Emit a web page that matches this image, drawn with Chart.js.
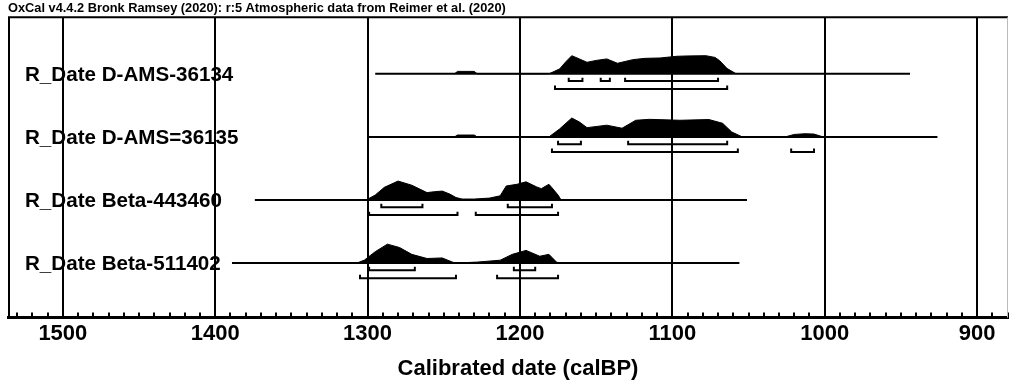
<!DOCTYPE html>
<html lang="en">
<head>
<meta charset="UTF-8">
<title>OxCal multiplot</title>
<script src="https://cdn.jsdelivr.net/npm/chart.js"></script>
<style>
  html, body { margin: 0; padding: 0; background: #fff; }
</style>
</head>
<body>
<canvas id="oxcal" width="1011" height="392"></canvas>
<script>
const header = 'OxCal v4.4.2 Bronk Ramsey (2020): r:5 Atmospheric data from Reimer et al. (2020)';
const axisTitle = 'Calibrated date (calBP)';
const tickValues = [1500, 1400, 1300, 1200, 1100, 1000, 900];
const minorStep = 10;
const xLeft = 1536, xRight = 879.7;

const names = ['R_Date D-AMS-36134', 'R_Date D-AMS=36135', 'R_Date Beta-443460', 'R_Date Beta-511402'];
const spanFrom = [1295, 1300, 1374, 1389];
const spanTo = [944, 926, 1051, 1056];

// calibrated probability, relative height (1 = tallest)
const dates1 = [1243, 1241, 1230, 1228, 1181, 1174, 1170, 1166, 1161, 1156, 1150, 1143, 1136, 1126, 1118, 1108, 1097, 1089, 1078, 1072, 1069, 1064, 1058];
const prob1 = [0, 0.13, 0.13, 0, 0, 0.26, 0.63, 0.96, 0.79, 0.61, 0.71, 0.79, 0.56, 0.75, 0.82, 0.84, 0.93, 0.95, 0.96, 0.87, 0.70, 0.28, 0];
const dates2 = [1243, 1241, 1230, 1228, 1181, 1174, 1166, 1161, 1156, 1143, 1133, 1124, 1115, 1095, 1076, 1067, 1061, 1054, 1026, 1020, 1013, 1007, 1001];
const prob2 = [0, 0.1, 0.1, 0, 0, 0.42, 1.0, 0.79, 0.49, 0.62, 0.46, 0.88, 0.93, 0.88, 0.92, 0.72, 0.26, 0, 0, 0.13, 0.17, 0.15, 0];
const dates3 = [1301, 1295, 1289, 1280, 1271, 1261, 1256, 1251, 1246, 1242, 1238, 1230, 1220, 1213, 1209, 1202, 1196, 1189, 1186, 1181, 1179, 1175, 1173];
const prob3 = [0, 0.26, 0.67, 1.0, 0.78, 0.39, 0.44, 0.47, 0.31, 0.13, 0.05, 0.05, 0.1, 0.22, 0.74, 0.83, 0.96, 0.69, 0.6, 0.83, 0.65, 0.26, 0];
const dates4 = [1307, 1302, 1295, 1287, 1279, 1271, 1261, 1251, 1244, 1242, 1228, 1213, 1205, 1196, 1187, 1181, 1176, 1174];
const prob4 = [0, 0.16, 0.6, 1.0, 0.82, 0.46, 0.24, 0.27, 0.04, 0, 0.05, 0.15, 0.46, 0.67, 0.36, 0.46, 0.05, 0];

// 68.2% and 95.4% ranges
const hpd68 = [
  [[1168, 1159], [1147, 1141], [1131, 1070]],
  [[1175, 1160], [1129, 1064]],
  [[1291, 1264], [1208, 1179]],
  [[1299, 1269], [1204, 1190]]
];
const hpd95 = [
  [[1177, 1064]],
  [[1179, 1057], [1022, 1007]],
  [[1299, 1241], [1229, 1175]],
  [[1305, 1242], [1215, 1175]]
];

const allDates = [dates1, dates2, dates3, dates4];
const allProbs = [prob1, prob2, prob3, prob4];

const peakH = 0.3;
const hook = 0.055;
const rowPos = i => names.length - i;

function brackets(ranges, y) {
  const pts = [];
  ranges.forEach(([a, b]) => {
    pts.push({x: a, y: y + hook}, {x: a, y: y}, {x: b, y: y}, {x: b, y: y + hook}, {x: b, y: null});
  });
  return pts;
}

const line = {borderColor: '#000', backgroundColor: '#000', pointRadius: 0, tension: 0, fill: false, spanGaps: false};
const datasets = [];
names.forEach((n, i) => {
  const y0 = rowPos(i);
  datasets.push(Object.assign({}, line, {
    data: allDates[i].map((d, k) => ({x: d, y: y0 + allProbs[i][k] * peakH})),
    fill: {value: y0}, borderWidth: 1
  }));
  datasets.push(Object.assign({}, line, {data: [{x: spanFrom[i], y: y0}, {x: spanTo[i], y: y0}], borderWidth: 2}));
  datasets.push(Object.assign({}, line, {data: brackets(hpd68[i], y0 - 0.115), borderWidth: 2}));
  datasets.push(Object.assign({}, line, {data: brackets(hpd95[i], y0 - 0.24), borderWidth: 2}));
});

const oxcalExtras = {
  id: 'oxcalExtras',
  beforeDraw(chart) {
    const {ctx, chartArea, scales} = chart;
    ctx.save();
    ctx.fillStyle = '#000';
    ctx.font = 'bold 20.6px "Liberation Sans", Arial, sans-serif';
    ctx.textBaseline = 'alphabetic';
    names.forEach((n, i) => {
      ctx.fillText(n, chartArea.left + 17, scales.y.getPixelForValue(rowPos(i)) + 7);
    });
    ctx.restore();
  },
  afterDatasetsDraw(chart) {
    const {ctx, chartArea, scales} = chart;
    ctx.save();
    ctx.strokeStyle = '#000';
    ctx.lineWidth = 2;
    ctx.beginPath();
    for (let v = Math.ceil(xRight / minorStep) * minorStep; v <= xLeft; v += minorStep) {
      if (v % 100 === 0) continue;
      const px = Math.round(scales.x.getPixelForValue(v));
      ctx.moveTo(px, chartArea.bottom);
      ctx.lineTo(px, chartArea.bottom - 5);
    }
    ctx.moveTo(chartArea.left + 1, chartArea.bottom);
    ctx.lineTo(chartArea.left + 1, chartArea.top);
    ctx.lineTo(chartArea.right, chartArea.top);
    ctx.stroke();
    ctx.strokeStyle = '#bbb';
    ctx.lineWidth = 1;
    ctx.beginPath();
    ctx.moveTo(chartArea.right - 0.5, chartArea.top);
    ctx.lineTo(chartArea.right - 0.5, chartArea.bottom);
    ctx.stroke();
    // axis title, set a little right of centre as in OxCal output
    ctx.fillStyle = '#000';
    ctx.font = 'bold 22px "Liberation Sans", Arial, sans-serif';
    ctx.textAlign = 'center';
    ctx.textBaseline = 'middle';
    ctx.fillText(axisTitle, (chartArea.left + chartArea.right) / 2 + 10, chart.height - 23);
    ctx.restore();
  }
};

Chart.defaults.font.family = '"Liberation Sans", Arial, sans-serif';
Chart.defaults.color = '#000';

new Chart(document.getElementById('oxcal'), {
  type: 'line',
  data: {datasets: datasets},
  options: {
    responsive: false,
    animation: false,
    devicePixelRatio: 1,
    layout: {padding: {left: 8, right: 3, top: 0, bottom: 42}},
    plugins: {
      legend: {display: false},
      tooltip: {enabled: false},
      title: {
        display: true, text: header, align: 'start', color: '#000',
        font: {size: 12.8, weight: 'bold'}, padding: {top: 1, bottom: 1}
      }
    },
    scales: {
      x: {
        type: 'linear', reverse: true, min: xRight, max: xLeft,
        afterBuildTicks: scale => { scale.ticks = tickValues.map(v => ({value: v})); },
        ticks: {
          color: '#000', font: {size: 22, weight: 'bold'}, padding: 3, maxRotation: 0, autoSkip: false,
          callback: v => String(v)
        },
        grid: {color: '#000', lineWidth: 2, drawTicks: false},
        border: {color: '#000', width: 3}
      },
      y: {type: 'linear', min: 0.135, max: 4.896, display: false}
    }
  },
  plugins: [oxcalExtras]
});
</script>
</body>
</html>
